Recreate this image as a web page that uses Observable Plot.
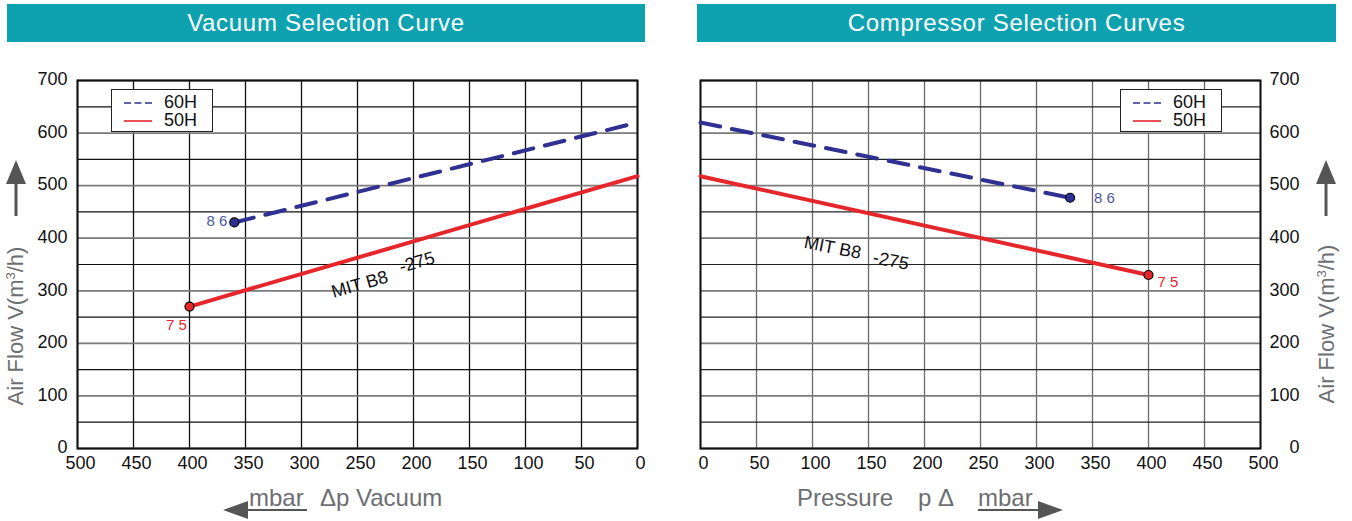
<!DOCTYPE html>
<html><head><meta charset="utf-8">
<script src="https://cdn.jsdelivr.net/npm/d3@7"></script>
<script src="https://cdn.jsdelivr.net/npm/@observablehq/plot@0.6"></script>
<style>
body{margin:0;background:#fff;width:1352px;height:521px;position:relative;overflow:hidden;font-family:"Liberation Sans",Arial,sans-serif}
.abs{position:absolute}
.bar{position:absolute;top:4px;height:38px;background:#0ea2b1;color:#fff;font-size:24px;letter-spacing:0.7px;line-height:38px;text-align:center;white-space:nowrap}
.ytitle{position:absolute;color:#6d6e71;font-size:22px;white-space:nowrap;transform:translate(-50%,-50%) rotate(-90deg)}
.xt{position:absolute;color:#6d6e71;font-size:24px;white-space:nowrap;line-height:1}
.legend{position:absolute;width:100px;height:41px;border:1px solid #222;background:#fff;font-size:18px;color:#111;font-family:"Liberation Sans Narrow","Arial Narrow",sans-serif}
.legend .row{position:absolute;left:12px;height:18px;line-height:18px}
.legend svg{vertical-align:middle}
.legend span{position:absolute;left:40px;top:0}
</style>
</head><body>
<div class="bar" style="left:7px;width:638px">Vacuum Selection Curve</div>
<div class="bar" style="left:697px;width:639px">Compressor Selection Curves</div>
<div id="left" class="abs" style="left:0;top:0"></div>
<div id="right" class="abs" style="left:660px;top:0"></div>

<div class="ytitle" style="left:16px;top:326px">Air Flow V(m<sup style="font-size:13px">3</sup>/h)</div>
<div class="ytitle" style="left:1327px;top:324px">Air Flow V(m<sup style="font-size:13px">3</sup>/h)</div>
<svg class="abs" style="left:6px;top:158px" width="22" height="60"><path d="M10,2 L20,26 L0,26 Z" fill="#555"/><rect x="8.5" y="25" width="3" height="33" fill="#555"/></svg>
<svg class="abs" style="left:1316px;top:158px" width="22" height="60"><path d="M10,2 L20,26 L0,26 Z" fill="#555"/><rect x="8.5" y="25" width="3" height="33" fill="#555"/></svg>

<div class="xt" style="left:249px;top:486px">mbar</div>
<div class="xt" style="left:320px;top:486px">Δp Vacuum</div>
<svg class="abs" style="left:220px;top:500px" width="90" height="22"><path d="M3,10 L28,1 L28,19 Z" fill="#555"/><rect x="27" y="9" width="60" height="2" fill="#555"/></svg>
<div class="xt" style="left:797px;top:486px">Pressure</div>
<div class="xt" style="left:918px;top:486px">p Δ</div>
<div class="xt" style="left:978px;top:486px">mbar</div>
<svg class="abs" style="left:976px;top:500px" width="90" height="22"><rect x="2" y="9" width="64" height="2" fill="#555"/><path d="M87,10 L62,1 L62,19 Z" fill="#555"/></svg>

<div class="legend" style="left:111px;top:89px">
 <div class="row" style="top:3px"><svg width="28" height="18"><line x1="0" y1="9" x2="28" y2="9" stroke="#2e3192" stroke-width="1.6" stroke-dasharray="7,3.5"/></svg><span>60H</span></div>
 <div class="row" style="top:21px"><svg width="28" height="18"><line x1="0" y1="9" x2="28" y2="9" stroke="#e5262b" stroke-width="1.6"/></svg><span>50H</span></div>
</div>
<div class="legend" style="left:1120px;top:89px">
 <div class="row" style="top:3px"><svg width="28" height="18"><line x1="0" y1="9" x2="28" y2="9" stroke="#2e3192" stroke-width="1.6" stroke-dasharray="7,3.5"/></svg><span>60H</span></div>
 <div class="row" style="top:21px"><svg width="28" height="18"><line x1="0" y1="9" x2="28" y2="9" stroke="#e5262b" stroke-width="1.6"/></svg><span>50H</span></div>
</div>

<script>
// ---- data ----
const series = ["60H", "50H"];
const seriesColor = ["#2e3192", "#e5262b"];
const labelColor = ["#4d57a3", "#e5262b"];
const endLabels = ["8 6", "7 5"];
const modelLabels = ["MIT B8", "-275"];

// Vacuum (left)
const vacX60 = [360, 0], vacY60 = [430, 620];
const vacX50 = [400, 0], vacY50 = [270, 518];
const vacModelX = [248, 197], vacModelY = [312, 354];

// Compressor (right)
const cmpX60 = [0, 330], cmpY60 = [620, 477];
const cmpX50 = [0, 400], cmpY50 = [518, 330];
const cmpModelX = [118, 170], cmpModelY = [382, 357];

const xTicks = [0, 50, 100, 150, 200, 250, 300, 350, 400, 450, 500];
const yTicks = [0, 100, 200, 300, 400, 500, 600, 700];
const yMinor = [50, 150, 250, 350, 450, 550, 650];

const font = "'Liberation Sans Narrow', 'Arial Narrow', 'Liberation Sans', sans-serif";

function chart({width, marginLeft, marginRight, xDomain, x60, y60, x50, y50, mX, mY, rot, side, vGrid, hMinor, endIdx, lab60, lab50}) {
  return Plot.plot({
    width, height: 480, marginLeft, marginRight, marginTop: 80, marginBottom: 32,
    style: {fontFamily: font, fontSize: "18px", color: "#111", background: "transparent"},
    x: {domain: xDomain, label: null},
    y: {domain: [0, 700], label: null},
    marks: [
      Plot.ruleX(xTicks, {stroke: vGrid, strokeWidth: 1.3}),
      Plot.ruleY(yMinor, {stroke: hMinor, strokeWidth: 1.2}),
      Plot.ruleY(yTicks, {stroke: "#7a7a7a", strokeWidth: 1.8}),
      Plot.frame({stroke: "#111", strokeWidth: 2}),
      Plot.line(x50, {x: x50, y: y50, stroke: seriesColor[1], strokeWidth: 4}),
      Plot.line(x60, {x: x60, y: y60, stroke: seriesColor[0], strokeWidth: 4, strokeDasharray: "20,12"}),
      Plot.dot([0], {x: [x60[endIdx]], y: [y60[endIdx]], r: 4.5, fill: seriesColor[0], stroke: "#000", strokeWidth: 1.2}),
      Plot.dot([0], {x: [x50[endIdx]], y: [y50[endIdx]], r: 4.5, fill: seriesColor[1], stroke: "#000", strokeWidth: 1.2}),
      Plot.text([endLabels[0]], {x: [x60[endIdx]], y: [y60[endIdx]], text: d => d, fill: labelColor[0], fontSize: 15, ...lab60}),
      Plot.text([endLabels[1]], {x: [x50[endIdx]], y: [y50[endIdx]], text: d => d, fill: labelColor[1], fontSize: 15, ...lab50}),
      Plot.text(modelLabels, {x: mX, y: mY, text: d => d, rotate: rot, fontSize: 18, fill: "#111"}),
      Plot.axisX(xTicks, {tickSize: 0, tickPadding: 8, dx: 3, label: null, fontSize: 18}),
      side === "left"
        ? Plot.axisY(yTicks, {anchor: "left", tickSize: 0, tickPadding: 10, dy: -1, label: null, fontSize: 18})
        : Plot.axisY(yTicks, {anchor: "right", tickSize: 0, tickPadding: 39, dy: -1, textAnchor: "end", label: null, fontSize: 18})
    ]
  });
}

document.getElementById("left").append(chart({
  width: 660, marginLeft: 77, marginRight: 23, xDomain: [500, 0],
  x60: vacX60, y60: vacY60, x50: vacX50, y50: vacY50,
  mX: vacModelX, mY: vacModelY, rot: -16, side: "left",
  vGrid: "#111", hMinor: "#111", endIdx: 0,
  lab60: {dx: -7, dy: -1, textAnchor: "end"},
  lab50: {dx: -13, dy: 19}
}));

document.getElementById("right").append(chart({
  width: 692, marginLeft: 40, marginRight: 92, xDomain: [0, 500],
  x60: cmpX60, y60: cmpY60, x50: cmpX50, y50: cmpY50,
  mX: cmpModelX, mY: cmpModelY, rot: 11, side: "right",
  vGrid: "#6a6a6a", hMinor: "#222", endIdx: 1,
  lab60: {dx: 24, dy: 0, textAnchor: "start"},
  lab50: {dx: 9, dy: 7, textAnchor: "start"}
}));
</script>
</body></html>
